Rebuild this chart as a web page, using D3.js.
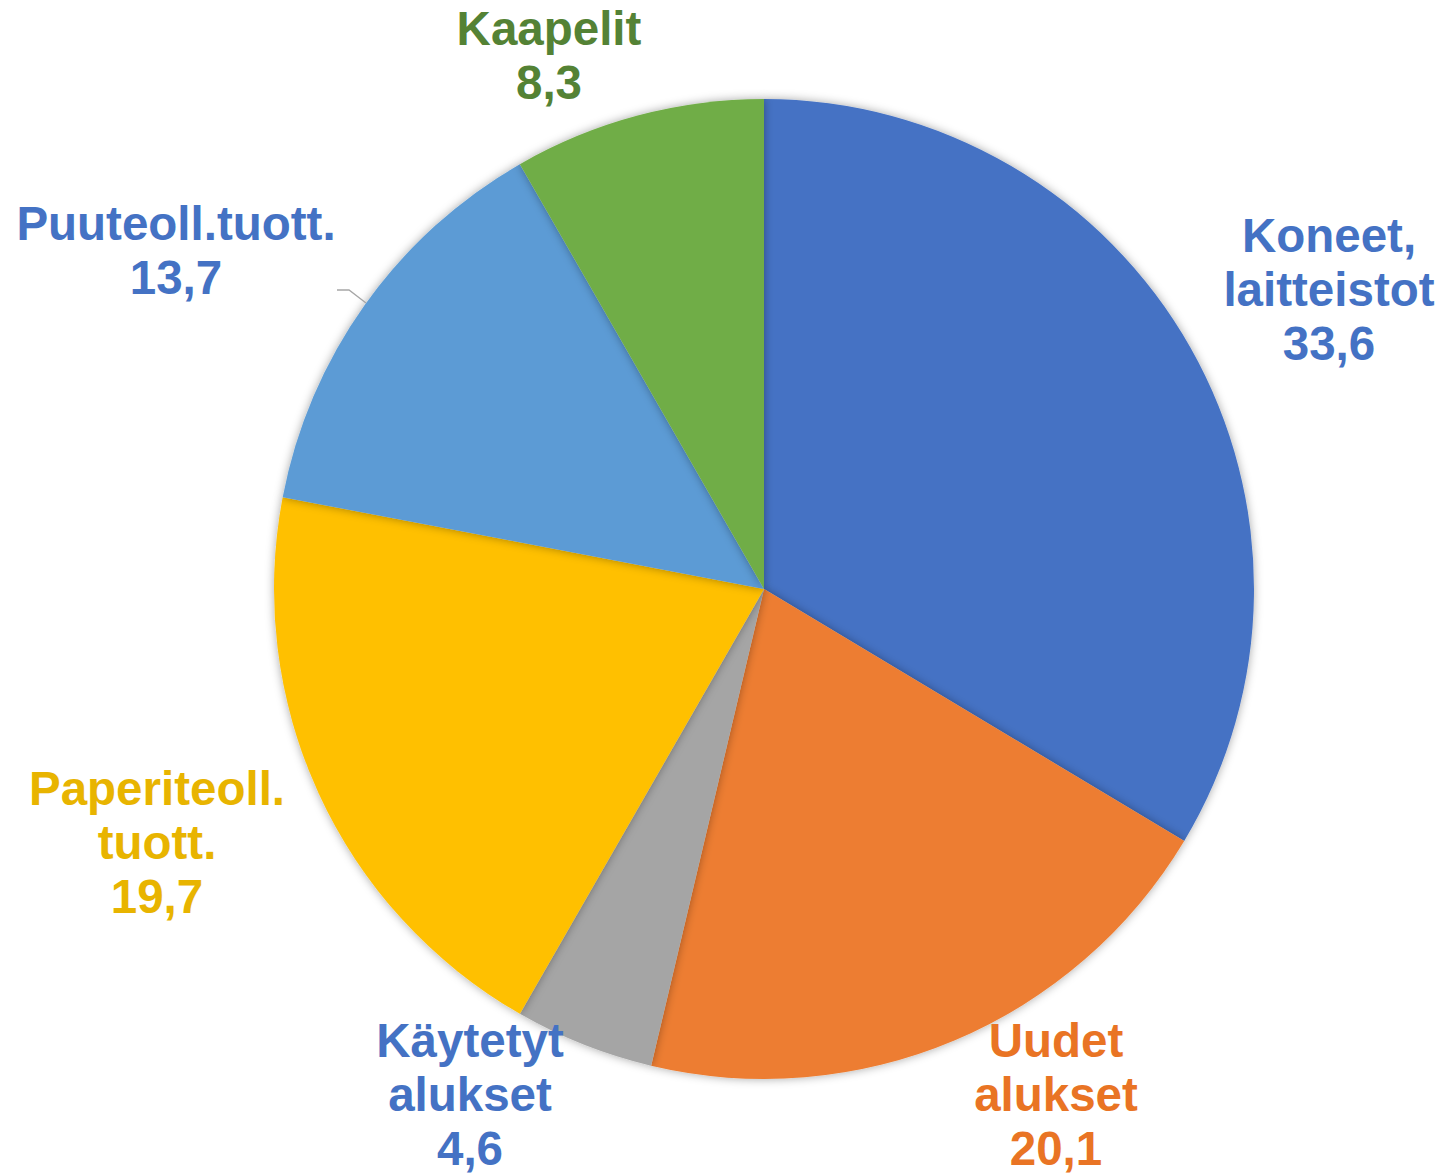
<!DOCTYPE html>
<html>
<head>
<meta charset="utf-8">
<script src="https://d3js.org/d3.v7.min.js"></script>
<style>
body{margin:0;background:#fff}
svg{display:block}
</style>
</head>
<body>
<svg id="chart" width="1445" height="1176"></svg>
<script>
// ===== DATA =====
const categories = ["Koneet, laitteistot","Uudet alukset","Käytetyt alukset","Paperiteoll. tuott.","Puuteoll.tuott.","Kaapelit"]
const values = [33.6,20.1,4.6,19.7,13.7,8.3]
const labelLines = [
  ["Koneet,","laitteistot"],
  ["Uudet","alukset"],
  ["Käytetyt","alukset"],
  ["Paperiteoll.","tuott."],
  ["Puuteoll.tuott."],
  ["Kaapelit"]
]
const valueLabels = ["33,6","20,1","4,6","19,7","13,7","8,3"]

const fills = ["#4472C4","#ED7D31","#A5A5A5","#FFC000","#5B9BD5","#70AD47"]
const textColors = ["#4472C4","#E97424","#4472C4","#E8B400","#4472C4","#548235"]
// label anchor (center x, first baseline)
const labelPos = [[1329,252],[1056,1057],[470,1057],[157,805],[176,240],[549,45]]

// ===== CHART =====
const svg = d3.select("#chart")
const cx = 764, cy = 589, r = 490

const defs = svg.append("defs")
const f = defs.append("filter").attr("id","shadow")
.attr("x","-20%").attr("y","-20%").attr("width","140%").attr("height","140%")
f.append("feDropShadow")
.attr("dx",0).attr("dy",0).attr("stdDeviation",5)
.attr("flood-color","#000").attr("flood-opacity",0.35)

const pie = d3.pie().sort(null).value(d=>d)
const arc = d3.arc().innerRadius(0).outerRadius(r)

const g = svg.append("g").attr("transform",`translate(${cx},${cy})`)

g.selectAll("path")
.data(pie(values))
.enter()
.append("path")
.attr("d",arc)
.attr("fill",(d,i)=>fills[i])
.attr("filter","url(#shadow)")

// LEADER LINE (Puuteoll.)
svg.append("polyline")
.attr("points","337,290 349,290 366,303")
.attr("fill","none")
.attr("stroke","#A6A6A6")
.attr("stroke-width",1.3)

// LABELS
const lineH = 54
categories.forEach((c,i)=>{
  const lines = labelLines[i].concat([valueLabels[i]])
  const t = svg.append("text")
  .attr("x",labelPos[i][0])
  .attr("y",labelPos[i][1])
  .attr("text-anchor","middle")
  .attr("font-family","Liberation Sans, Arial, sans-serif")
  .attr("font-weight","bold")
  .attr("font-size",47.5)
  .attr("fill",textColors[i])
  lines.forEach((l,j)=>{
    t.append("tspan")
    .attr("x",labelPos[i][0])
    .attr("dy",j===0?0:lineH)
    .text(l)
  })
})
</script>
</body>
</html>
